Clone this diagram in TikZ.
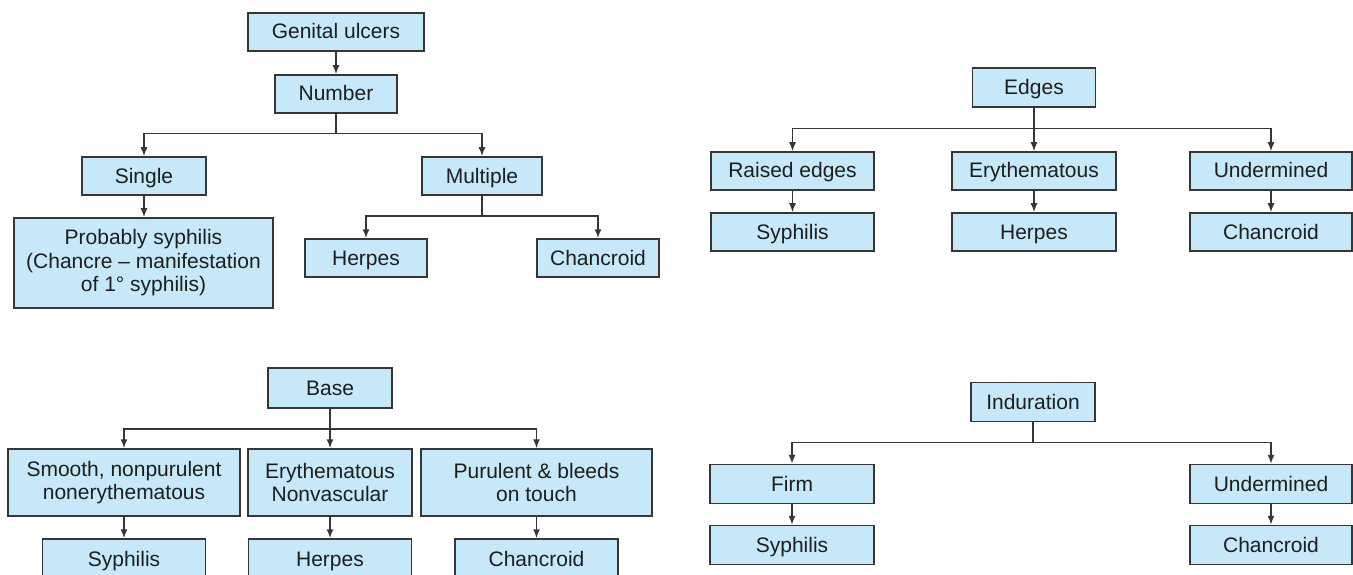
\documentclass[tikz,border=0pt]{standalone}
\usepackage{fontspec}
\setmainfont{Liberation Sans}
\usetikzlibrary{arrows.meta}
\definecolor{boxfill}{HTML}{C6E8F9}
\definecolor{boxline}{HTML}{363636}
\definecolor{inktext}{HTML}{1E1E1E}
\tikzset{
  box/.style={draw=boxline, line width=1.5pt, fill=boxfill, inner sep=0pt,
    text=inktext, font=\fontsize{21}{23.5}\selectfont,
    text height=15pt, text depth=1pt},
  mbox/.style={draw=boxline, line width=1.5pt, fill=boxfill, inner sep=0pt,
    text=inktext, font=\fontsize{21}{23.5}\selectfont, align=center},
  link/.style={draw=boxline, line width=1.5pt},
  arr/.style={link, -{Latex[length=9pt,width=7pt]}}
}
\begin{document}
\begin{tikzpicture}[x=1pt,y=-1pt]
\clip (0,0) rectangle (1353,575);
\fill[white] (0,0) rectangle (1353,575);

% --- Number of ulcers
\node[box, minimum width=176, minimum height=38] (gu) at (336,32) {Genital ulcers};
\node[box, minimum width=122, minimum height=38] (num) at (336,94) {Number};
\node[box, minimum width=124, minimum height=38] (single) at (144,176) {Single};
\node[box, minimum width=120, minimum height=38] (multi) at (482,176) {Multiple};
\node[mbox, minimum width=259, minimum height=90] (prob) at (143.5,263)
  {Probably syphilis\\(Chancre -- manifestation\\of 1° syphilis)};
\node[box, minimum width=122, minimum height=38] (herA) at (366,258) {Herpes};
\node[box, minimum width=122, minimum height=38] (chaA) at (598,258) {Chancroid};

\draw[arr] (gu) -- (num);
\draw[arr] (num.south) -- ++(0,20) -| (single.north);
\draw[arr] (num.south) -- ++(0,20) -| (multi.north);
\draw[arr] (single) -- (single |- prob.north);
\draw[arr] (multi.south) -- ++(0,20) -| (herA.north);
\draw[arr] (multi.south) -- ++(0,20) -| (chaA.north);

% --- Edges
\node[box, minimum width=123, minimum height=39] (edg) at (1034,87.5) {Edges};
\node[box, minimum width=163, minimum height=38] (rai) at (792.5,171) {Raised edges};
\node[box, minimum width=164, minimum height=38] (eryB) at (1034,171) {Erythematous};
\node[box, minimum width=162, minimum height=38] (undB) at (1271,171) {Undermined};
\node[box, minimum width=163, minimum height=38] (syB) at (792.5,232) {Syphilis};
\node[box, minimum width=164, minimum height=38] (herB) at (1034,232) {Herpes};
\node[box, minimum width=162, minimum height=38] (chaB) at (1271,232) {Chancroid};

\draw[arr] (edg.south) -- ++(0,21) -| (rai.north);
\draw[arr] (edg.south) -- (eryB.north);
\draw[arr] (edg.south) -- ++(0,21) -| (undB.north);
\draw[arr] (rai) -- (syB);
\draw[arr] (eryB) -- (herB);
\draw[arr] (undB) -- (chaB);

% --- Base
\node[box, minimum width=124, minimum height=40] (bas) at (330,388) {Base};
\node[mbox, minimum width=232, minimum height=67] (smo) at (124,482.5)
  {Smooth, nonpurulent\\nonerythematous};
\node[mbox, minimum width=164, minimum height=67] (eryC) at (330,482.5)
  {Erythematous\\Nonvascular};
\node[mbox, minimum width=231, minimum height=67] (pur) at (536.5,482.5)
  {Purulent \& bleeds\\on touch};
\node[box, minimum width=163, minimum height=40] (syC) at (124,559) {Syphilis};
\node[box, minimum width=163, minimum height=40] (herC) at (330,559) {Herpes};
\node[box, minimum width=163, minimum height=40] (chaC) at (536.5,559) {Chancroid};

\draw[arr] (bas.south) -- ++(0,20) -| (smo.north);
\draw[arr] (bas.south) -- (eryC.north);
\draw[arr] (bas.south) -- ++(0,20) -| (pur.north);
\draw[arr] (smo) -- (syC);
\draw[arr] (eryC) -- (herC);
\draw[arr] (pur) -- (chaC);

% --- Induration
\node[box, minimum width=124, minimum height=39] (ind) at (1033,402) {Induration};
\node[box, minimum width=164, minimum height=39] (fir) at (792,484) {Firm};
\node[box, minimum width=162, minimum height=39] (undD) at (1271,484) {Undermined};
\node[box, minimum width=164, minimum height=39] (syD) at (792,545) {Syphilis};
\node[box, minimum width=162, minimum height=39] (chaD) at (1271,545) {Chancroid};

\draw[arr] (ind.south) -- ++(0,20) -| (fir.north);
\draw[arr] (ind.south) -- ++(0,20) -| (undD.north);
\draw[arr] (fir) -- (syD);
\draw[arr] (undD) -- (chaD);
\end{tikzpicture}
\end{document}
